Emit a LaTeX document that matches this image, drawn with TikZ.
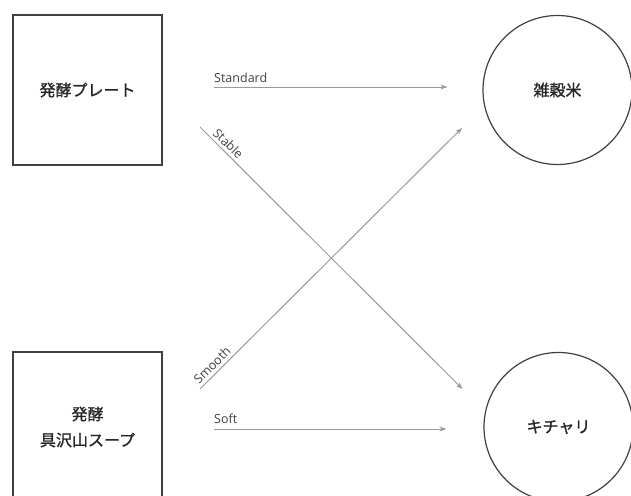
\documentclass[tikz,border=0pt]{standalone}
\usepackage{fontspec}
\setmainfont{Open Sans}
\newfontfamily\jpfont[FakeBold=1.2]{Noto Sans CJK JP}
\usetikzlibrary{arrows.meta}
\tikzset{
  box/.style={draw=black!75, line width=1.4pt, minimum width=149pt, minimum height=150pt, inner sep=0pt, font=\jpfont\fontsize{16}{26}\selectfont, align=center, text=black!85},
  circ/.style={draw=black!75, line width=1.2pt, circle, minimum size=149pt, inner sep=0pt, font=\jpfont\fontsize{16}{20}\selectfont, text=black!85},
  arr/.style={draw=black!40, line width=1pt, -{Stealth[length=7pt,width=5pt]}},
  lbl/.style={font=\fontsize{12.5}{14}\selectfont, text=black!75, inner sep=2pt}
}
\begin{document}
\begin{tikzpicture}[x=1pt,y=-1pt]
\useasboundingbox (0,0) rectangle (631,495);
\clip (0,0) rectangle (631,495);
\node[box] (b1) at (87.5,90) {発酵プレート};
\node[box] (b2) at (87.5,427) {発酵\\具沢山スープ};
\node[circ] (c1) at (557.5,90) {雑穀米};
\node[circ] (c2) at (558.5,427) {キチャリ};
\draw[arr] ([shift={(51,-3)}]b1.east) -- node[lbl, pos=0, anchor=south west, xshift=-2pt, yshift=2pt]{Standard} ([shift={(-35,-3)}]c1.west);
\draw[arr] ([shift={(51,2)}]b2.east) -- node[lbl, pos=0, anchor=south west, xshift=-2pt, yshift=3pt]{Soft} ([shift={(-37,2)}]c2.west);
\draw[arr] ([shift={(112.5,37)}]b1.center) -- node[lbl, pos=0.03, anchor=south west, sloped, yshift=1pt]{Stable} ([shift={(-96,-38)}]c2.center);
\draw[arr] ([shift={(112.5,-38)}]b2.center) -- node[lbl, pos=0, anchor=south west, sloped, yshift=1pt]{Smooth} ([shift={(-95.5,38)}]c1.center);
\end{tikzpicture}
\end{document}
